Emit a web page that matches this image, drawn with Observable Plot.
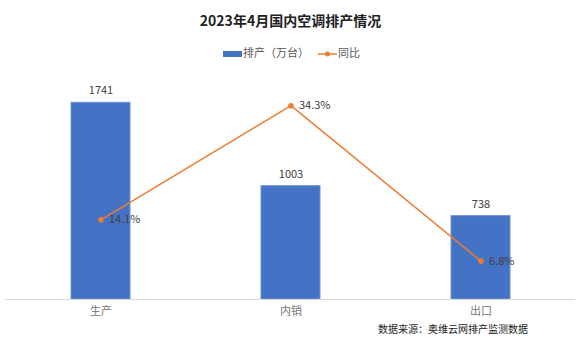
<!DOCTYPE html>
<html>
<head>
<meta charset="utf-8">
<script src="https://cdn.jsdelivr.net/npm/d3@7"></script>
<script src="https://cdn.jsdelivr.net/npm/@observablehq/plot@0.6"></script>
<style>
  body { margin: 0; background: #fff; font-family: "Noto Sans CJK SC", "Noto Sans", sans-serif; }
  #wrap { width: 581px; height: 339px; position: relative; overflow: hidden; }
  #title { height: 40px; line-height: 40px; text-align: center; font-size: 14px; font-weight: bold; color: #222; }
  #legend { height: 24px; position: relative; font-size: 11px; color: #595959; }
  #legend .item { position: absolute; top: 0; line-height: 24px; }
  #caption { height: 20px; line-height: 20px; font-size: 10px; color: #222; padding-left: 378px; }
</style>
</head>
<body>
<div id="wrap">
  <div id="title">2023年4月国内空调排产情况</div>
  <div id="legend">
    <span class="item" style="left:223px;"><span style="display:inline-block;width:19px;height:6px;background:#4472C4;vertical-align:middle;margin-right:1px;"></span>排产（万台）</span>
    <span class="item" style="left:318px;"><svg width="19" height="8" style="vertical-align:middle;margin-right:1px;"><line x1="0" y1="4" x2="19" y2="4" stroke="#ED7D31" stroke-width="1.5"/><circle cx="9.5" cy="4" r="2.5" fill="#ED7D31"/></svg>同比</span>
  </div>
  <div id="chart"></div>
  <div id="caption">数据来源：奥维云网排产监测数据</div>
</div>
<script>
const categories = ["生产", "内销", "出口"];
const production = [1741, 1003, 738];
const yoy = [14.1, 34.3, 6.8];

const data = categories.map((c, i) => ({cat: c, prod: production[i], yoy: yoy[i]}));
const yoyToY = v => v * 50; // secondary axis 0–40% over primary 0–2000

const chart = Plot.plot({
  width: 581,
  height: 255,
  marginTop: 9,
  marginBottom: 20,
  marginLeft: 5,
  marginRight: 6,
  style: {fontFamily: "'Noto Sans CJK SC', 'Noto Sans', sans-serif", fontSize: "11px", color: "#767676", background: "#fff"},
  x: {domain: categories, paddingInner: 0.69, paddingOuter: 0.345, label: null, tickSize: 0, tickPadding: 8},
  y: {domain: [0, 2000], axis: null},
  marks: [
    Plot.barY(data, {x: "cat", y: "prod", fill: "#4472C4", stroke: "#6f93d6", strokeWidth: 1}),
    Plot.ruleY([0], {stroke: "#d9d9d9"}),
    Plot.text(data, {x: "cat", y: "prod", text: d => String(d.prod), dy: -12, fill: "#404040", fontSize: 11}),
    Plot.line(data, {x: "cat", y: d => yoyToY(d.yoy), stroke: "#ED7D31", strokeWidth: 1.5}),
    Plot.dot(data, {x: "cat", y: d => yoyToY(d.yoy), r: 2.8, fill: "#ED7D31"}),
    Plot.text(data, {x: "cat", y: d => yoyToY(d.yoy), text: d => d.yoy.toFixed(1) + "%", dx: 8, textAnchor: "start", fill: "#404040", fontSize: 11})
  ]
});
document.getElementById("chart").appendChild(chart);
</script>
</body>
</html>
